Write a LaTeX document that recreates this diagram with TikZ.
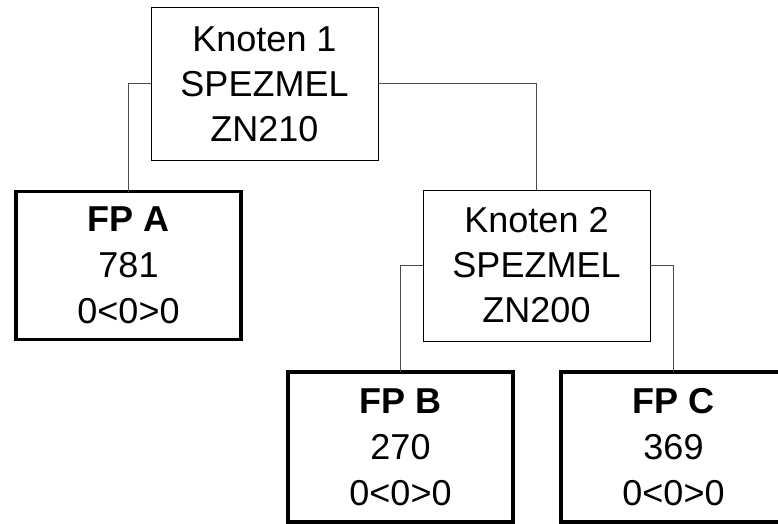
\documentclass[tikz,border=0pt]{standalone}
\usepackage{fontspec}
\setmainfont{Liberation Sans}
\begin{document}
\begin{tikzpicture}[x=1pt,y=-1pt,
  thinbox/.style={draw=black,line width=1pt,inner sep=0pt,outer sep=0pt,
    minimum width=227pt,minimum height=152pt,align=center,
    font=\fontsize{36}{45}\selectfont},
  leafbox/.style={draw=black,line width=3.5pt,inner sep=0pt,outer sep=0pt,
    minimum width=225pt,minimum height=148pt,align=center,
    font=\fontsize{36}{46}\selectfont},
  conn/.style={draw=black!70,line width=1pt}]
\useasboundingbox (0,0) rectangle (778,524);
\fill[white] (0,0) rectangle (778,524);
\node[thinbox] (k1) at (264.5,84) {Knoten 1\\SPEZMEL\\ZN210};
\node[leafbox] (fpa) at (128.5,265.5) {\textbf{FP A}\\781\\0<0>0};
\node[thinbox,minimum height=151pt] (k2) at (536.5,265.5) {Knoten 2\\SPEZMEL\\ZN200};
\node[leafbox,minimum height=150pt] (fpb) at (400.5,447) {\textbf{FP B}\\270\\0<0>0};
\node[leafbox,minimum height=150pt] (fpc) at (673.5,447) {\textbf{FP C}\\369\\0<0>0};
\draw[conn] (k1.west) -| (fpa.north);
\draw[conn] (k1.east) -| (k2.north);
\draw[conn] (k2.west) -| (fpb.north);
\draw[conn] (k2.east) -| (fpc.north);
\end{tikzpicture}
\end{document}
